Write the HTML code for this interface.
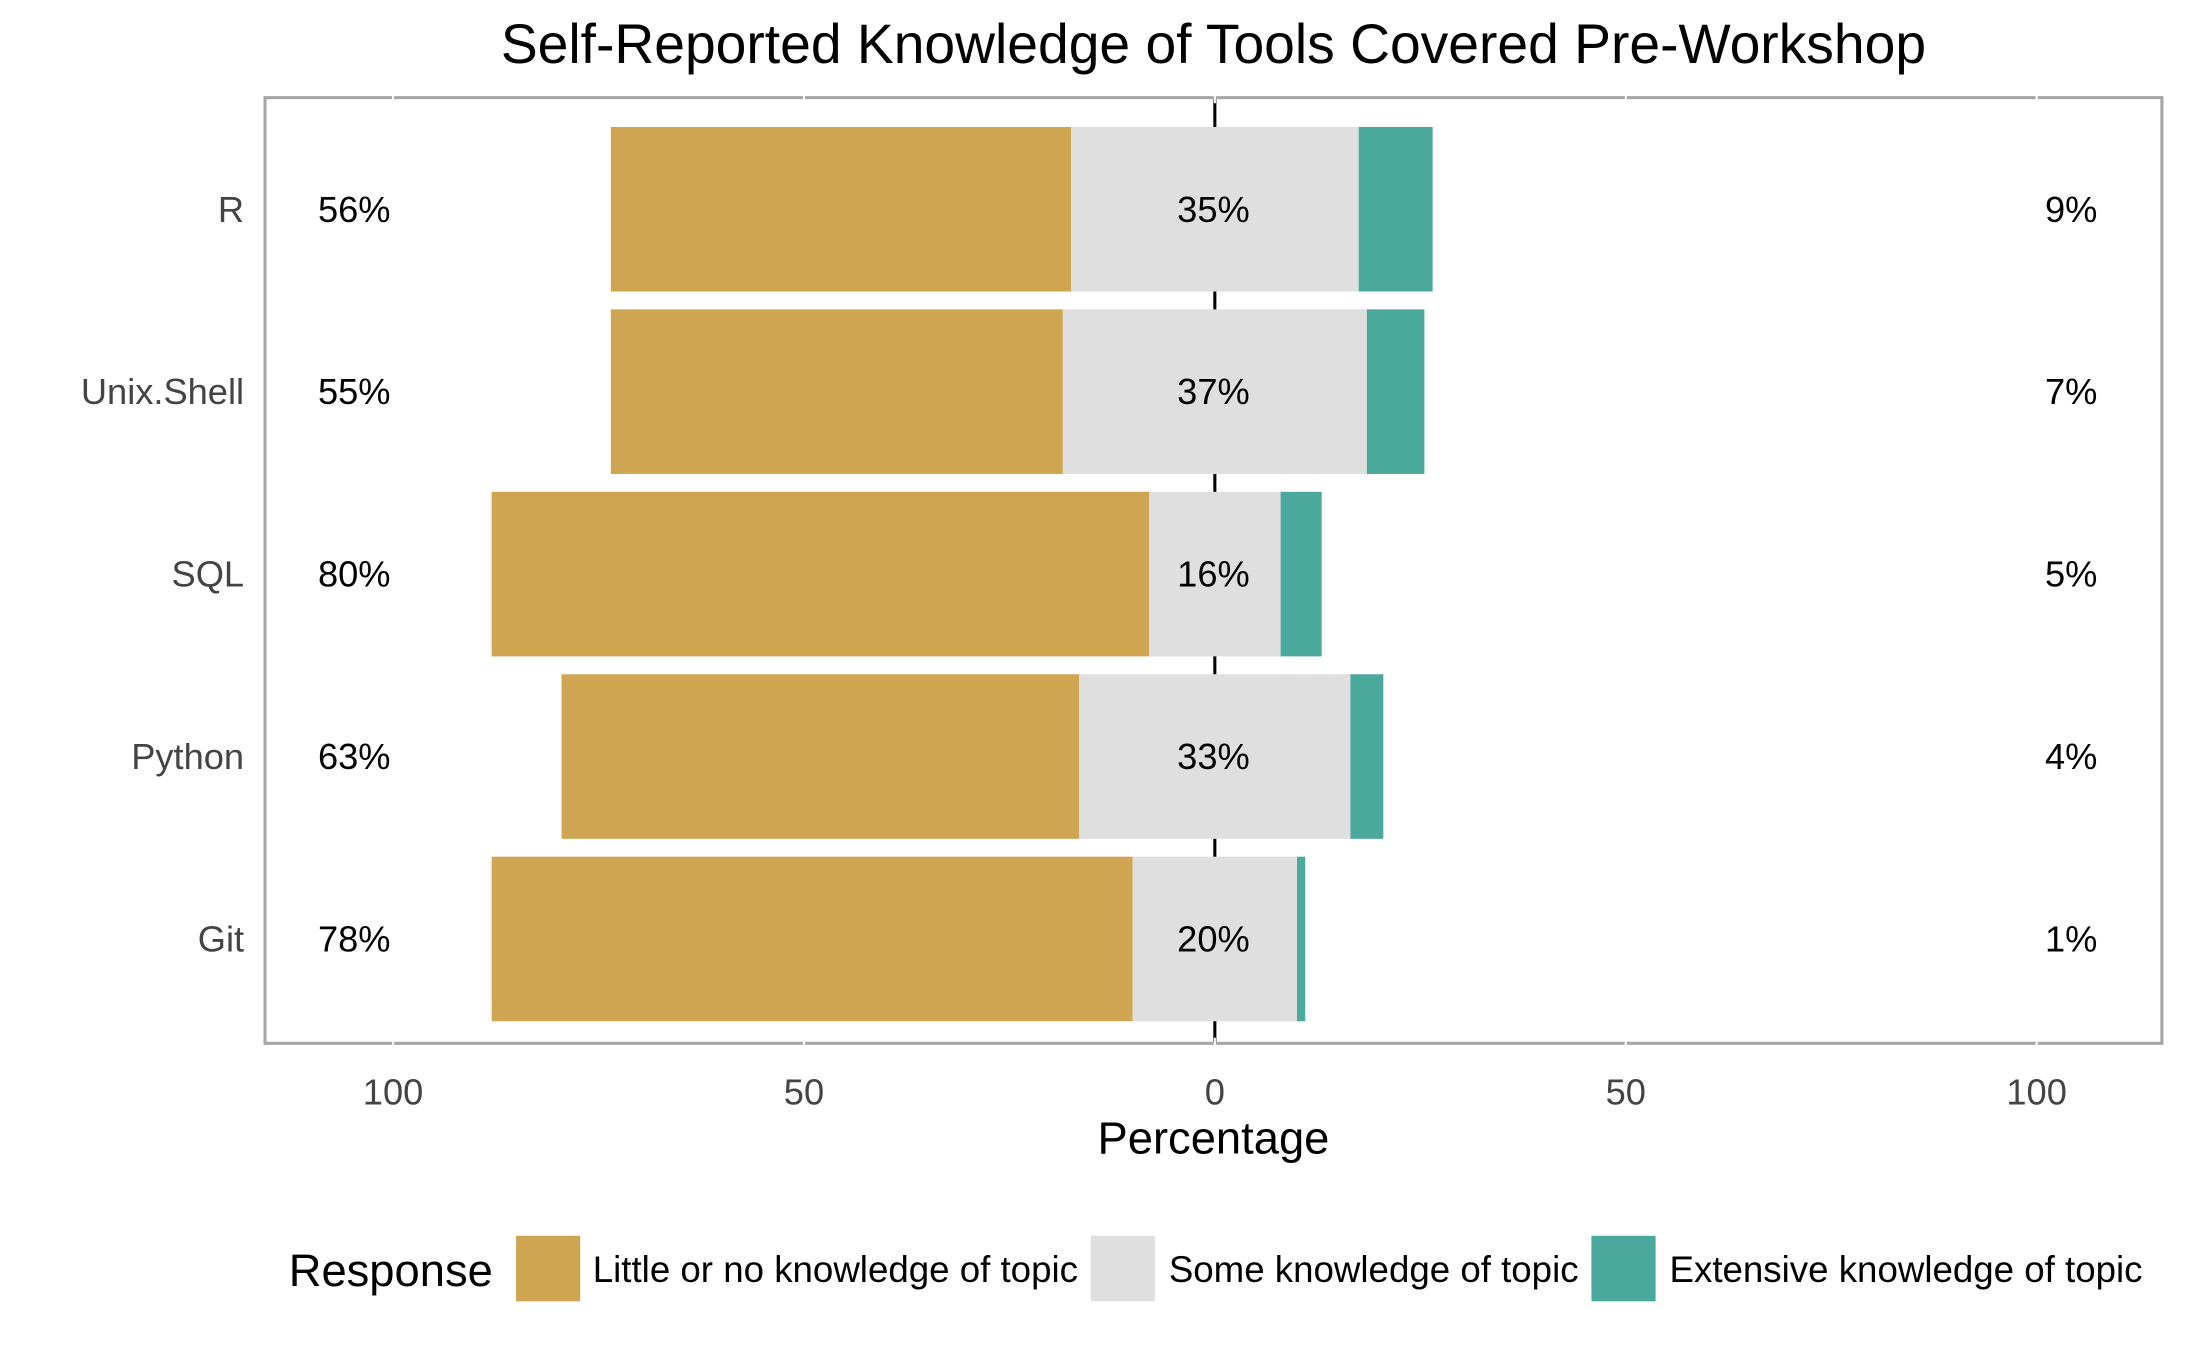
<!DOCTYPE html>
<html><head><meta charset="utf-8"><style>
html,body{margin:0;padding:0;background:#fff;}
svg{display:block;font-family:"Liberation Sans",Arial,sans-serif;}
</style></head><body>
<svg id="chart" width="2187" height="1351" viewBox="0 0 1568 968.6" xmlns="http://www.w3.org/2000/svg">
<rect x="0" y="0" width="1568" height="968.6" fill="#fff"/>
<text x="870" y="45" font-size="39.6" text-anchor="middle" fill="#000">Self-Reported Knowledge of Tools Covered Pre-Workshop</text>
<g id="plot"></g>
<text x="870" y="827" font-size="32.5" text-anchor="middle" fill="#000">Percentage</text>
<g>
<text x="207" y="922" font-size="32.5" fill="#000">Response</text>
<rect x="370" y="886" width="46" height="47" fill="#CFA552"/>
<text x="425" y="919" font-size="26.3" fill="#000">Little or no knowledge of topic</text>
<rect x="782" y="886" width="46" height="47" fill="#DFDFDF"/>
<text x="838" y="919" font-size="26.3" fill="#000">Some knowledge of topic</text>
<rect x="1141" y="886" width="46" height="47" fill="#4AA89C"/>
<text x="1197" y="919" font-size="26.3" fill="#000">Extensive knowledge of topic</text>
</g>
</svg>
<script>
const categories = ["R","Unix.Shell","SQL","Python","Git"];
const little = [56,55,80,63,78];
const some = [35,37,16,33,20];
const extensive = [9,7,5,4,1];
const xTicks = [-100,-50,0,50,100];
const xTickLabels = ["100","50","0","50","100"];

const NS="http://www.w3.org/2000/svg";
const g=document.getElementById('plot');
const L=190,R=1550,T=70,B=748;
const x=v=>871+v*5.892;
const rowY=i=>150+i*130.8;
const bh=118;
function mk(tag,attrs){const e=document.createElementNS(NS,tag);for(const k in attrs)e.setAttribute(k,attrs[k]);g.appendChild(e);return e;}
let z=mk('line',{x1:x(0),x2:x(0),y1:T,y2:B,stroke:'#000','stroke-width':2.2});


categories.forEach((c,i)=>{
  const cy=rowY(i);
  const s0=-some[i]/2, l0=s0-little[i], e1=some[i]/2+extensive[i];
  let r1=mk('rect',{x:x(l0),y:cy-bh/2,width:x(s0)-x(l0),height:bh,fill:'#CFA552'});
  
  
  let r2=mk('rect',{x:x(s0),y:cy-bh/2,width:x(-s0)-x(s0),height:bh,fill:'#DFDFDF'});
  
  
  let r3=mk('rect',{x:x(-s0),y:cy-bh/2,width:x(e1)-x(-s0),height:bh,fill:'#4AA89C'});
  
  
  let t1=mk('text',{x:254,y:cy+9,'font-size':26,'text-anchor':'middle',fill:'#000'});t1.textContent=little[i]+'%';
  
  
  let t2=mk('text',{x:870,y:cy+9,'font-size':26,'text-anchor':'middle',fill:'#000'});t2.textContent=some[i]+'%';
  
  
  let t3=mk('text',{x:1485,y:cy+9,'font-size':26,'text-anchor':'middle',fill:'#000'});t3.textContent=extensive[i]+'%';
  
  
  let yl=mk('text',{x:175,y:cy+9,'font-size':26,'text-anchor':'end',fill:'#444'});yl.textContent=c;
  
  
});
let border=mk('rect',{x:L,y:T,width:R-L,height:B-T,fill:'none',stroke:'#a6a6a6','stroke-width':2.2});


xTicks.forEach((v,i)=>{
  let tk=mk('line',{x1:x(v),x2:x(v),y1:B-4,y2:B+4,stroke:'#fff','stroke-width':1.5});
  
  
  let tk2=mk('line',{x1:x(v),x2:x(v),y1:T-4,y2:T+4,stroke:'#fff','stroke-width':1.5});
  
  
  let tl=mk('text',{x:x(v),y:792,'font-size':26,'text-anchor':'middle',fill:'#444'});tl.textContent=xTickLabels[i];
  
  
});
</script>
</body></html>
